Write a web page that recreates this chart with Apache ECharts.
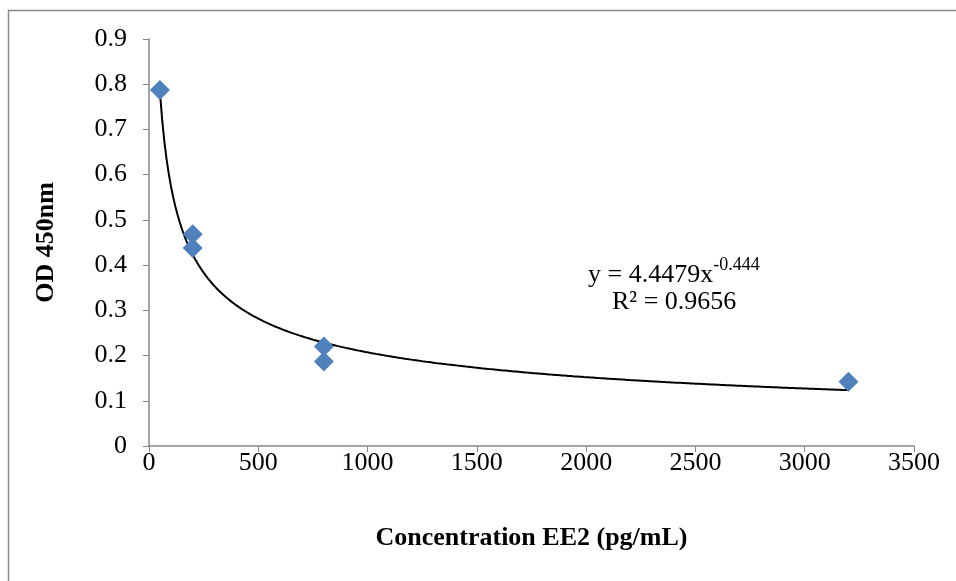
<!DOCTYPE html>
<html>
<head>
<meta charset="utf-8">
<script src="https://cdn.jsdelivr.net/npm/echarts@6/dist/echarts.min.js"></script>
<style>
  html, body { margin: 0; padding: 0; background: #fff; }
  #chart { width: 956px; height: 581px; }
</style>
</head>
<body>
<div id="chart"></div>
<script>
// measured points (concentration, OD)
const concentrations = [50, 200, 200, 800, 800, 3200];
const odValues = [0.787, 0.468, 0.438, 0.220, 0.187, 0.142];

// power trendline printed on the chart: y = a * x^b
const trendA = 4.4479;
const trendB = -0.444;
const trendR2 = '0.9656';
const trendFrom = 50, trendTo = 3200;

const xTicks = [0, 500, 1000, 1500, 2000, 2500, 3000, 3500];
const yTicks = [0, 0.1, 0.2, 0.3, 0.4, 0.5, 0.6, 0.7, 0.8, 0.9];

const points = concentrations.map((c, i) => [c, odValues[i]]);

// trendline curve from the printed equation
const trend = [];
for (let x = trendFrom; x <= trendTo; x += 10) {
  trend.push([x, trendA * Math.pow(x, trendB)]);
}

const font = '"Liberation Serif", "Times New Roman", serif';
const axisGray = '#868686';

const chart = echarts.init(document.getElementById('chart'));
chart.setOption({
  animation: false,
  grid: { left: 149, top: 39, right: 42, bottom: 135 },
  xAxis: {
    type: 'value',
    min: xTicks[0],
    max: xTicks[xTicks.length - 1],
    interval: 500,
    name: 'Concentration EE2 (pg/mL)',
    nameLocation: 'middle',
    nameGap: 79,
    nameTextStyle: { fontFamily: font, fontSize: 26, fontWeight: 'bold', color: '#000' },
    axisLine: { lineStyle: { color: axisGray, width: 1.5 } },
    axisTick: { show: true, length: 6, lineStyle: { color: axisGray } },
    axisLabel: { fontFamily: font, fontSize: 26, color: '#000', margin: 4, formatter: v => String(v) },
    splitLine: { show: false }
  },
  yAxis: {
    type: 'value',
    min: yTicks[0],
    max: yTicks[yTicks.length - 1],
    interval: 0.1,
    name: 'OD 450nm',
    nameLocation: 'middle',
    nameGap: 90,
    nameTextStyle: { fontFamily: font, fontSize: 26, fontWeight: 'bold', color: '#000' },
    axisLine: { show: true, lineStyle: { color: axisGray, width: 1.5 } },
    axisTick: { show: true, length: 6, lineStyle: { color: axisGray } },
    axisLabel: {
      fontFamily: font, fontSize: 26, color: '#000', margin: 22,
      formatter: v => (Math.round(v * 10) / 10).toString()
    },
    splitLine: { show: false }
  },
  series: [
    {
      type: 'line',
      data: trend,
      showSymbol: false,
      lineStyle: { color: '#000', width: 2 },
      z: 2
    },
    {
      type: 'scatter',
      data: points,
      symbol: 'diamond',
      symbolSize: [20, 20],
      itemStyle: { color: '#4F81BD', opacity: 1 },
      z: 3
    }
  ],
  graphic: [
    {
      type: 'polyline',
      shape: { points: [[8.5, 581], [8.5, 10.5], [956, 10.5]] },
      style: { stroke: '#898989', lineWidth: 1.5, fill: null },
      silent: true
    },
    {
      type: 'text',
      left: 588, top: 256,
      style: {
        text: '{n|y = ' + trendA + 'x}{s|' + trendB + '}',
        rich: {
          n: { fontFamily: font, fontSize: 26, fill: '#000', verticalAlign: 'bottom' },
          s: { fontFamily: font, fontSize: 18, fill: '#000', verticalAlign: 'top', padding: [0, 0, 14, 0] }
        }
      }
    },
    {
      type: 'text',
      left: 612, top: 289,
      style: { text: 'R² = ' + trendR2, font: '26px ' + font, fill: '#000' }
    }
  ]
});
</script>
</body>
</html>
